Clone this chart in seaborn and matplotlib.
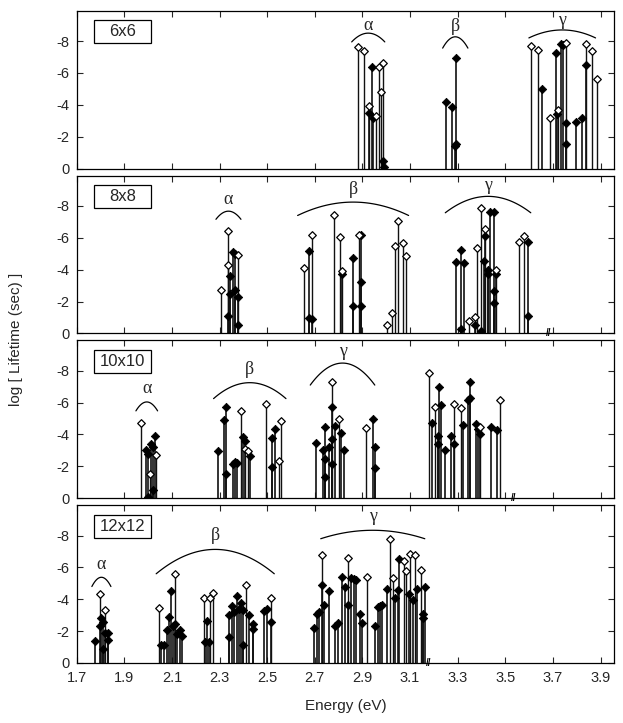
import numpy as np
import pandas as pd
import matplotlib
matplotlib.use("Agg")
import matplotlib.pyplot as plt
from matplotlib.patches import Rectangle
import seaborn as sns

# cluster size labels
sizes = ["6x6", "8x8", "10x10", "12x12"]

# energies (eV) and log lifetimes (sec)
# open markers / filled markers, one pair of lists per panel
e_6_open = [2.881, 2.908, 2.929, 2.958, 2.968, 2.978, 2.986, 3.609, 3.637, 3.686,
            3.723, 3.756, 3.838, 3.866, 3.884]
lt_6_open = [-7.6, -7.4, -3.9, -3.3, -6.4, -4.8, -6.6, -7.7, -7.45, -3.2,
             -3.7, -7.9, -7.8, -7.4, -5.6]
e_6_fill = [2.929, 2.940, 2.945, 2.986, 2.990, 3.252, 3.278, 3.294, 3.294, 3.290,
            3.656, 3.711, 3.716, 3.735, 3.744, 3.756, 3.756, 3.798, 3.824, 3.838]
lt_6_fill = [-3.5, -6.4, -3.2, -0.45, -0.1, -4.15, -3.85, -6.95, -1.55, -1.4,
             -5.0, -7.25, -3.45, -7.8, -7.75, -2.85, -1.55, -2.95, -3.2, -6.5]

e_8_open = [2.307, 2.334, 2.334, 2.376, 2.656, 2.688, 2.782, 2.806, 2.814, 2.884,
            3.003, 3.024, 3.035, 3.048, 3.070, 3.082, 3.349, 3.372, 3.383, 3.397,
            3.416, 3.461, 3.559, 3.580]
lt_8_open = [-2.7, -6.4, -4.3, -4.95, -4.1, -6.2, -7.4, -6.05, -3.9, -6.15,
             -0.55, -1.3, -5.5, -7.05, -5.65, -4.85, -0.75, -1.05, -5.35, -7.85,
             -6.55, -4.0, -5.75, -6.1]
e_8_fill = [2.334, 2.342, 2.345, 2.356, 2.366, 2.366, 2.376, 2.376, 2.677, 2.677,
            2.688, 2.814, 2.860, 2.860, 2.895, 2.895, 2.895, 3.292, 3.315, 3.315,
            3.326, 3.372, 3.397, 3.410, 3.416, 3.427, 3.427, 3.437, 3.451, 3.451,
            3.451, 3.461, 3.595, 3.595]
lt_8_fill = [-1.1, -3.6, -2.5, -5.1, -5.0, -2.75, -2.3, -0.5, -5.2, -0.95,
             -0.9, -3.7, -4.7, -1.7, -6.15, -3.2, -1.7, -4.5, -5.25, -0.3,
             -4.4, -0.5, -0.15, -4.55, -6.1, -4.0, -3.7, -7.6, -7.6, -2.65,
             -1.9, -3.7, -5.75, -1.1]

e_10_open = [1.970, 2.006, 2.035, 2.390, 2.408, 2.418, 2.495, 2.551, 2.559, 2.772,
             2.800, 2.916, 3.178, 3.206, 3.283, 3.315, 3.395, 3.476]
lt_10_open = [-4.75, -1.5, -2.7, -5.5, -3.1, -2.95, -5.9, -2.35, -4.85, -7.3,
              -5.0, -4.4, -7.85, -5.7, -5.9, -5.65, -4.45, -6.15]
e_10_fill = [1.991, 1.998, 1.998, 2.013, 2.020, 2.020, 2.027, 2.293, 2.320, 2.328,
             2.328, 2.356, 2.366, 2.373, 2.397, 2.408, 2.429, 2.520, 2.520, 2.534,
             2.705, 2.734, 2.741, 2.741, 2.741, 2.758, 2.772, 2.772, 2.772, 2.786,
             2.811, 2.821, 2.943, 2.954, 2.954, 3.192, 3.216, 3.216, 3.223, 3.231,
             3.248, 3.273, 3.283, 3.322, 3.342, 3.353, 3.353, 3.378, 3.385, 3.395,
             3.440, 3.464]
lt_10_fill = [-3.05, -2.75, -0.05, -3.4, -3.2, -0.5, -3.9, -2.95, -4.9, -5.75,
              -1.5, -2.15, -2.3, -2.2, -3.85, -3.6, -2.65, -3.8, -1.95, -4.35,
              -3.45, -3.0, -4.45, -2.45, -1.3, -3.2, -5.7, -3.7, -2.15, -4.55,
              -4.1, -3.05, -4.95, -3.2, -1.9, -4.75, -3.9, -3.4, -6.95, -5.85,
              -3.0, -3.9, -3.4, -4.6, -6.15, -7.3, -6.3, -4.65, -4.35, -4.0,
              -4.45, -4.25]

e_12_open = [1.797, 1.820, 2.044, 2.111, 2.233, 2.261, 2.272, 2.412, 2.517, 2.730,
             2.839, 2.919, 3.014, 3.028, 3.073, 3.082, 3.101, 3.119, 3.145]
lt_12_open = [-4.3, -3.35, -3.45, -5.6, -4.1, -4.1, -4.4, -4.9, -4.1, -6.8,
              -6.6, -5.4, -7.8, -5.35, -6.4, -5.8, -6.85, -6.8, -5.85]
e_12_fill = [1.776, 1.797, 1.803, 1.810, 1.810, 1.820, 1.830, 1.830, 2.056, 2.065,
             2.079, 2.086, 2.097, 2.104, 2.111, 2.121, 2.135, 2.142, 2.240, 2.247,
             2.254, 2.341, 2.341, 2.352, 2.362, 2.373, 2.380, 2.390, 2.397, 2.397,
             2.422, 2.440, 2.440, 2.485, 2.499, 2.517, 2.695, 2.709, 2.719, 2.730,
             2.740, 2.761, 2.783, 2.797, 2.814, 2.828, 2.839, 2.853, 2.863, 2.874,
             2.888, 2.898, 2.951, 2.964, 2.972, 2.982, 3.003, 3.038, 3.049, 3.052,
             3.094, 3.111, 3.129, 3.154, 3.154, 3.164]
lt_12_fill = [-1.35, -2.35, -2.8, -2.6, -0.85, -1.9, -1.9, -1.45, -1.1, -1.1,
              -2.05, -2.9, -4.5, -2.35, -2.45, -1.8, -2.1, -1.7, -1.3, -2.65,
              -1.3, -3.0, -1.65, -3.6, -3.2, -4.2, -3.4, -3.75, -3.3, -1.1,
              -3.0, -2.45, -2.15, -3.25, -3.4, -2.55, -2.2, -3.1, -3.2, -4.9,
              -3.65, -4.5, -2.3, -2.5, -5.4, -4.75, -3.65, -5.35, -5.3, -5.2,
              -3.05, -2.5, -2.3, -3.5, -3.6, -3.65, -4.65, -4.1, -4.6, -6.5,
              -4.35, -3.95, -4.65, -3.1, -2.85, -4.8]

# group brackets: letter, left E, right E, end height, peak height, label height
groups_6 = [("α", 2.855, 2.994, -7.95, -8.5, -9.0),
            ("β", 3.237, 3.343, -7.56, -8.27, -8.9),
            ("γ", 3.599, 3.879, -8.2, -8.7, -9.3)]
groups_8 = [("α", 2.285, 2.390, -7.16, -7.67, -8.4),
            ("β", 2.628, 3.094, -7.4, -8.24, -9.0),
            ("γ", 3.248, 3.607, -7.57, -8.6, -9.3)]
groups_10 = [("α", 1.949, 2.040, -5.48, -6.04, -6.9),
             ("β", 2.275, 2.579, -6.25, -7.25, -8.1),
             ("γ", 2.681, 2.952, -7.1, -8.48, -9.2)]
groups_12 = [("α", 1.764, 1.844, -4.8, -5.38, -6.2),
             ("β", 2.034, 2.530, -5.6, -7.13, -8.0),
             ("γ", 2.725, 3.162, -7.8, -8.33, -9.2)]

# end of computed range (break mark on the baseline)
breaks = [None, 3.68, 3.535, 3.178]

panels = [
    (e_6_open, lt_6_open, e_6_fill, lt_6_fill, groups_6),
    (e_8_open, lt_8_open, e_8_fill, lt_8_fill, groups_8),
    (e_10_open, lt_10_open, e_10_fill, lt_10_fill, groups_10),
    (e_12_open, lt_12_open, e_12_fill, lt_12_fill, groups_12),
]


def main():
    sns.set_theme(style="ticks")
    plt.rcParams["font.family"] = ["Liberation Sans", "DejaVu Sans"]
    plt.rcParams["axes.unicode_minus"] = False

    fig, axes = plt.subplots(4, 1, figsize=(6.23, 7.23), dpi=100, sharex=True)
    fig.subplots_adjust(left=0.123, right=0.985, top=0.985, bottom=0.083, hspace=0.045)

    for i, ax in enumerate(axes):
        eo, lo, ef, lf, groups = panels[i]
        d_open = pd.DataFrame({"E": eo, "lt": lo})
        d_fill = pd.DataFrame({"E": ef, "lt": lf})

        # stems
        ax.vlines(d_fill["E"], 0, d_fill["lt"], color="#111111", lw=1.2, zorder=2)
        ax.vlines(d_open["E"], 0, d_open["lt"], color="#111111", lw=1.0, zorder=2)
        # heads
        sns.scatterplot(x="E", y="lt", data=d_fill, ax=ax, marker="D", s=18,
                        color="black", edgecolor="black", linewidth=0.6, zorder=3)
        sns.scatterplot(x="E", y="lt", data=d_open, ax=ax, marker="D", s=15,
                        color="white", edgecolor="black", linewidth=0.9, zorder=4)

        # group brackets
        for name, x0, x1, y_end, y_peak, y_lab in groups:
            t = np.linspace(-1, 1, 60)
            xs = x0 + (t + 1) / 2 * (x1 - x0)
            ys = y_end + (y_peak - y_end) * (1 - t ** 2)
            ax.plot(xs, ys, color="black", lw=0.9)
            ax.text((x0 + x1) / 2, y_lab, name, ha="center", va="center",
                    fontsize=13, family=["Liberation Serif", "DejaVu Serif"])

        if breaks[i] is not None:
            ax.text(breaks[i], 0, "//", ha="center", va="center", fontsize=7,
                    fontweight="bold", color="black")

        # size label box
        ax.add_patch(Rectangle((0.032, 0.795), 0.106, 0.145, transform=ax.transAxes,
                               fc="white", ec="black", lw=0.9, zorder=5))
        ax.text(0.085, 0.868, sizes[i], transform=ax.transAxes, ha="center",
                va="center", fontsize=12, zorder=6)

        ax.set_xlim(1.7, 3.955)
        ax.set_ylim(0, -9.9)
        ax.set_yticks([0, -2, -4, -6, -8])
        ax.set_xticks(np.arange(1.7, 3.95, 0.2))
        ax.set_xticklabels(["1.7", "1.9", "2.1", "2.3", "2.5", "2.7", "2.9",
                            "3.1", "3.3", "3.5", "3.7", "3.9"])
        ax.tick_params(direction="in", top=True, right=True, length=4, width=0.8,
                       labelsize=10.5)
        ax.tick_params(axis="x", pad=6)
        ax.tick_params(axis="y", pad=5)
        ax.set_xlabel("")
        ax.set_ylabel("")
        for sp in ax.spines.values():
            sp.set_visible(True)
            sp.set_color("black")
            sp.set_linewidth(0.9)

    fig.text(0.025, 0.53, "log [ Lifetime (sec) ]", rotation=90, ha="center",
             va="center", fontsize=11)
    fig.text(0.555, 0.023, "Energy (eV)", ha="center", va="center", fontsize=11)

    fig.savefig("out.png", dpi=100)


if __name__ == "__main__":
    main()
